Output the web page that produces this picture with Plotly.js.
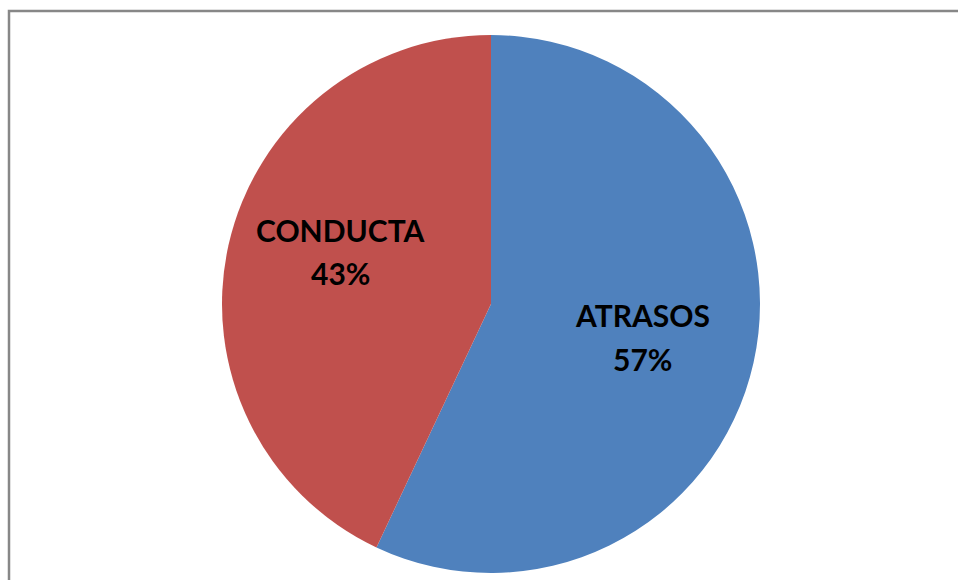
<!DOCTYPE html>
<html>
<head>
<meta charset="utf-8">
<script src="https://cdn.plot.ly/plotly-3.0.1.min.js"></script>
<style>html,body{margin:0;padding:0;background:#fff;}#chart{width:958px;height:580px;}</style>
</head>
<body>
<div id="chart"></div>
<script>
const categories = ["ATRASOS", "CONDUCTA"];
const values = [57, 43];
const colors = ["#4F81BD", "#C0504D"];

const W = 958, H = 580;
const cx = 491, cy = 304, r = 269;
// label anchor pixels (centre of name line, centre of percent line)
const labelPos = [[642, 316, 360], [340, 231, 274]];

const total = values.reduce((a, b) => a + b, 0);

const trace = {
  type: "pie",
  labels: categories,
  values: values,
  sort: false,
  direction: "clockwise",
  rotation: 0,
  marker: { colors: colors, line: { width: 0 } },
  textinfo: "none",
  hoverinfo: "none",
  showlegend: false,
  domain: { x: [(cx - r) / W, (cx + r) / W], y: [1 - (cy + r) / H, 1 - (cy - r) / H] }
};

const font = { family: "Lato, sans-serif", size: 30, color: "#000000" };
const annotations = [];
categories.forEach((c, i) => {
  const [px, py1, py2] = labelPos[i];
  annotations.push({ xref: "paper", yref: "paper", x: px / W, y: 1 - (py1 - 1) / H,
    xanchor: "center", yanchor: "middle", showarrow: false, text: "<b>" + c + "</b>", font: font });
  annotations.push({ xref: "paper", yref: "paper", x: px / W, y: 1 - (py2 - 1) / H,
    xanchor: "center", yanchor: "middle", showarrow: false,
    text: "<b>" + Math.round(values[i] / total * 100) + "%</b>", font: font });
});

const layout = {
  width: W, height: H,
  margin: { l: 0, r: 0, t: 0, b: 0 },
  paper_bgcolor: "#ffffff",
  showlegend: false,
  annotations: annotations,
  shapes: [{
    type: "rect", xref: "paper", yref: "paper",
    x0: 9 / W, x1: 1.05, y0: -0.05, y1: 1 - 11 / H,
    line: { color: "#878787", width: 2.5 }
  }]
};

Plotly.newPlot("chart", [trace], layout, { displayModeBar: false, staticPlot: true });
</script>
</body>
</html>
